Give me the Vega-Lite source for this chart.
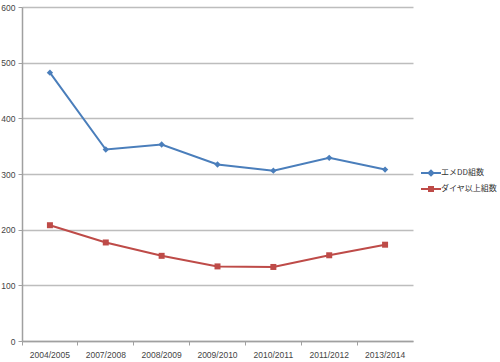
{
  "$schema": "https://vega.github.io/schema/vega-lite/v6.json",
  "autosize": "none",
  "width": 391,
  "height": 334,
  "padding": {"left": 22, "top": 7, "right": 87, "bottom": 21},
  "background": "white",
  "data": {"values": [
    {"season": "2004/2005", "series": "エメDD組数", "value": 482},
    {"season": "2007/2008", "series": "エメDD組数", "value": 344},
    {"season": "2008/2009", "series": "エメDD組数", "value": 353},
    {"season": "2009/2010", "series": "エメDD組数", "value": 317},
    {"season": "2010/2011", "series": "エメDD組数", "value": 306},
    {"season": "2011/2012", "series": "エメDD組数", "value": 329},
    {"season": "2013/2014", "series": "エメDD組数", "value": 308},
    {"season": "2004/2005", "series": "ダイヤ以上組数", "value": 208},
    {"season": "2007/2008", "series": "ダイヤ以上組数", "value": 177},
    {"season": "2008/2009", "series": "ダイヤ以上組数", "value": 153},
    {"season": "2009/2010", "series": "ダイヤ以上組数", "value": 134},
    {"season": "2010/2011", "series": "ダイヤ以上組数", "value": 133},
    {"season": "2011/2012", "series": "ダイヤ以上組数", "value": 154},
    {"season": "2013/2014", "series": "ダイヤ以上組数", "value": 173}
  ]},
  "config": {
    "view": {"stroke": null},
    "font": "Liberation Sans",
    "axis": {"labelFont": "Liberation Sans", "labelFontSize": 8.5, "labelColor": "#444", "domainColor": "#a0a0a0", "tickColor": "#a0a0a0", "gridColor": "#bdbdbd"}
  },
  "encoding": {
    "x": {"field": "season", "type": "ordinal", "bandPosition": 0.5,
      "scale": {"type": "band", "paddingInner": 0, "paddingOuter": 0},
      "axis": {"title": null, "labelAngle": 0, "bandPosition": 0, "tickSize": 4, "labelPadding": 5, "grid": false, "domainWidth": 1.5}},
    "y": {"field": "value", "type": "quantitative",
      "scale": {"domain": [0, 600], "nice": false},
      "axis": {"title": null, "values": [0,100,200,300,400,500,600], "tickSize": 4, "labelPadding": 3, "grid": true, "gridWidth": 1.5, "domainWidth": 1.5}},
    "color": {"field": "series", "type": "nominal",
      "scale": {"domain": ["エメDD組数", "ダイヤ以上組数"], "range": ["#4A7EBB", "#BE4B48"]},
      "legend": {"title": null, "orient": "none", "legendX": 400, "legendY": 157,
        "labelFont": "Noto Sans CJK JP", "labelFontSize": 8, "labelColor": "#333", "rowPadding": 0,
        "symbolSize": 256, "labelOffset": 1, "symbolType": "M-1.25,0H1.25",
        "encode": {"symbols": {"update": {
          "shape": {"signal": "datum.value === 'エメDD組数' ? 'M-1.25,0H1.25M0,-0.3L0.3,0L0,0.3L-0.3,0Z' : 'M-1.25,0H1.25M-0.25,-0.25H0.25V0.25H-0.25Z'"},
          "stroke": {"signal": "datum.value === 'エメDD組数' ? '#4A7EBB' : '#BE4B48'"},
          "fill": {"signal": "datum.value === 'エメDD組数' ? '#4A7EBB' : '#BE4B48'"},
          "strokeWidth": {"value": 2},
          "opacity": {"value": 1}
        }}}}}
  },
  "layer": [
    {"mark": {"type": "line", "strokeWidth": 2}},
    {"transform": [{"filter": "datum.series === 'エメDD組数'"}],
     "mark": {"type": "point", "filled": true, "opacity": 1, "size": 40, "shape": "diamond"}},
    {"transform": [{"filter": "datum.series === 'ダイヤ以上組数'"}],
     "mark": {"type": "point", "filled": true, "opacity": 1, "size": 36, "shape": "square"}}
  ]
}
